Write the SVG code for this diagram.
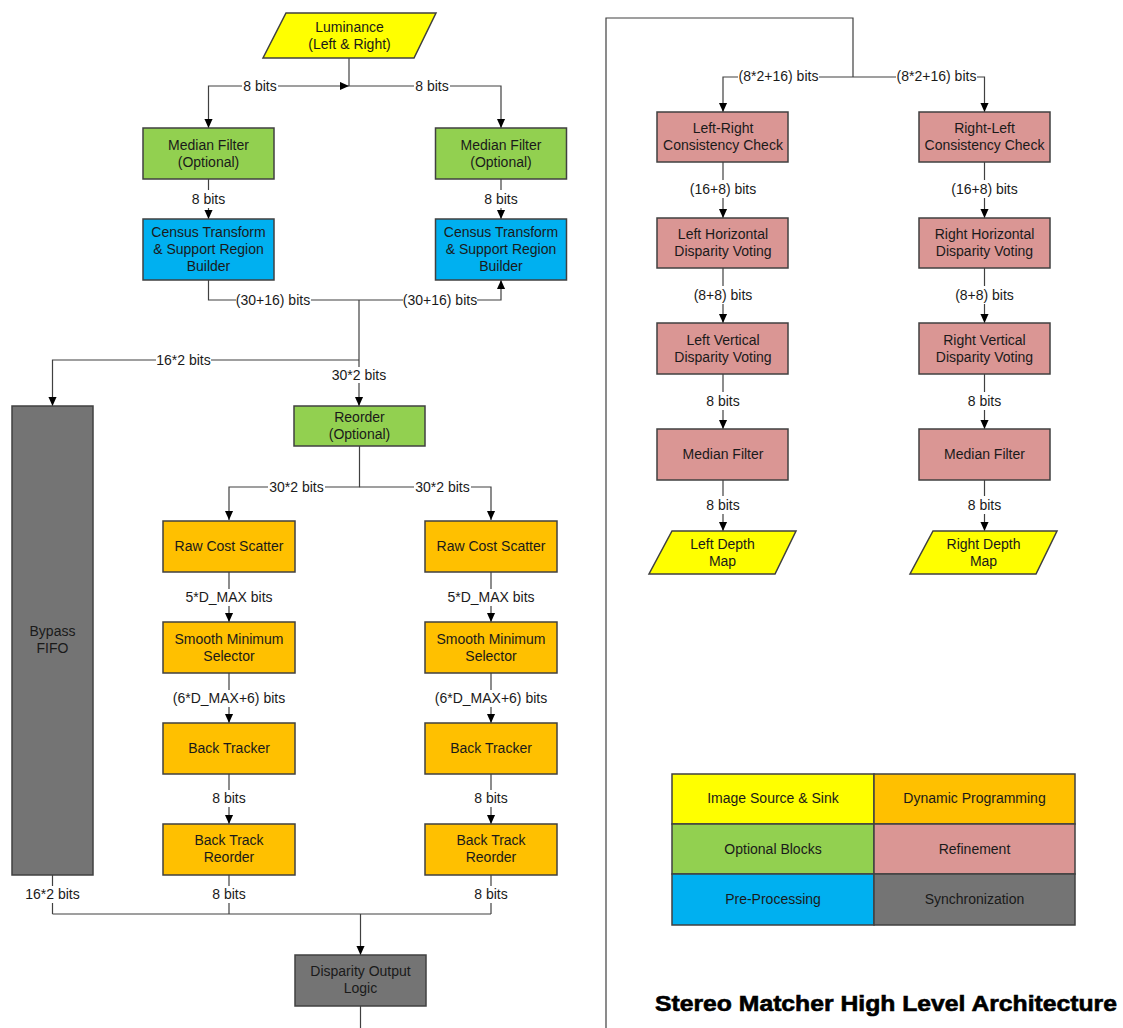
<svg xmlns="http://www.w3.org/2000/svg" width="1123" height="1028" viewBox="0 0 1123 1028">
<style>
text{font-family:"Liberation Sans",Arial,sans-serif;font-size:14px;fill:#1a1a1a;text-anchor:middle}
.box{stroke:#404040;stroke-width:1.5}
.y{fill:#FFFF00}.g{fill:#92D050}.b{fill:#00B0F0}.o{fill:#FFC000}.p{fill:#DA9694}.k{fill:#747474}
#connectors path{fill:none;stroke:#404040;stroke-width:1.2}
.title{font-size:22px;font-weight:bold;fill:#000;stroke:#000;stroke-width:0.6;text-anchor:start}
</style>
<defs>
<marker id="ah" viewBox="0 0 10 10" refX="10" refY="5" markerWidth="9" markerHeight="9" markerUnits="userSpaceOnUse" orient="auto">
<path d="M0,0.5 L10,5 L0,9.5 z" fill="#000"/>
</marker>
</defs>
<rect width="1123" height="1028" fill="#fff"/>

<g id="connectors">
<path d="M349,58 V86"/>
<path d="M242,86 H208.5 V128" marker-end="url(#ah)"/>
<path d="M278,86 H349" marker-end="url(#ah)"/>
<path d="M349,86 H414"/>
<path d="M450,86 H501 V128" marker-end="url(#ah)"/>
<path d="M208.5,179 V190"/><path d="M208.5,208 V219" marker-end="url(#ah)"/>
<path d="M501,179 V190"/><path d="M501,208 V219" marker-end="url(#ah)"/>
<path d="M208.5,280 V300 H236"/><path d="M311,300 H403"/><path d="M477,300 H501 V280" marker-end="url(#ah)"/>
<path d="M359,300 V367"/><path d="M359,383 V406" marker-end="url(#ah)"/>
<path d="M359,360 H211"/><path d="M156,360 H52.5 V406" marker-end="url(#ah)"/>
<path d="M359.5,446 V487 H325"/><path d="M268,487 H229 V520" marker-end="url(#ah)"/>
<path d="M359.5,487 H414"/><path d="M471,487 H491 V520" marker-end="url(#ah)"/>
<path d="M229,572 V589"/><path d="M229,606 V622" marker-end="url(#ah)"/>
<path d="M491,572 V589"/><path d="M491,606 V622" marker-end="url(#ah)"/>
<path d="M229,673 V690"/><path d="M229,707 V723" marker-end="url(#ah)"/>
<path d="M491,673 V690"/><path d="M491,707 V723" marker-end="url(#ah)"/>
<path d="M229,774 V790"/><path d="M229,807 V824" marker-end="url(#ah)"/>
<path d="M491,774 V790"/><path d="M491,807 V824" marker-end="url(#ah)"/>
<path d="M229,875 V886"/><path d="M229,903 V914"/>
<path d="M491,875 V886"/><path d="M491,903 V914"/>
<path d="M52.5,875 V886"/><path d="M52.5,903 V914"/>
<path d="M52.5,914 H491"/>
<path d="M360.5,914 V955" marker-end="url(#ah)"/>
<path d="M360.5,1006 V1028"/>
<path d="M606,1028 V18 H853 V77"/>
<path d="M853,77 H819"/><path d="M738,77 H723 V112" marker-end="url(#ah)"/>
<path d="M853,77 H896"/><path d="M977,77 H984.5 V112" marker-end="url(#ah)"/>
<path d="M723,162 V180"/><path d="M723,198 V218" marker-end="url(#ah)"/>
<path d="M984.5,162 V180"/><path d="M984.5,198 V218" marker-end="url(#ah)"/>
<path d="M723,268 V286"/><path d="M723,304 V323" marker-end="url(#ah)"/>
<path d="M984.5,268 V286"/><path d="M984.5,304 V323" marker-end="url(#ah)"/>
<path d="M723,374 V392"/><path d="M723,410 V429" marker-end="url(#ah)"/>
<path d="M984.5,374 V392"/><path d="M984.5,410 V429" marker-end="url(#ah)"/>
<path d="M723,480 V496"/><path d="M723,514 V531" marker-end="url(#ah)"/>
<path d="M984.5,480 V496"/><path d="M984.5,514 V531" marker-end="url(#ah)"/>
</g>

<g id="labels">
<text x="260" y="91">8 bits</text>
<text x="432" y="91">8 bits</text>
<text x="208.5" y="204">8 bits</text>
<text x="501" y="204">8 bits</text>
<text x="273" y="305">(30+16) bits</text>
<text x="440" y="305">(30+16) bits</text>
<text x="183.5" y="365">16*2 bits</text>
<text x="359" y="380">30*2 bits</text>
<text x="296.5" y="492">30*2 bits</text>
<text x="442.5" y="492">30*2 bits</text>
<text x="229" y="602">5*D_MAX bits</text>
<text x="491" y="602">5*D_MAX bits</text>
<text x="229" y="703">(6*D_MAX+6) bits</text>
<text x="491" y="703">(6*D_MAX+6) bits</text>
<text x="229" y="803">8 bits</text>
<text x="491" y="803">8 bits</text>
<text x="229" y="899">8 bits</text>
<text x="491" y="899">8 bits</text>
<text x="52.5" y="899">16*2 bits</text>
<text x="778.5" y="81">(8*2+16) bits</text>
<text x="936.5" y="81">(8*2+16) bits</text>
<text x="723" y="194">(16+8) bits</text>
<text x="984.5" y="194">(16+8) bits</text>
<text x="723" y="300">(8+8) bits</text>
<text x="984.5" y="300">(8+8) bits</text>
<text x="723" y="406">8 bits</text>
<text x="984.5" y="406">8 bits</text>
<text x="723" y="510">8 bits</text>
<text x="984.5" y="510">8 bits</text>
</g>

<g id="luminance"><polygon class="box y" points="286,13 436,13 414,58 263,58"/><text x="349.5" y="32">Luminance</text><text x="349.5" y="49">(Left &amp; Right)</text></g>
<g id="median-left"><rect class="box g" x="143" y="128" width="131" height="51"/><text x="208.5" y="150">Median Filter</text><text x="208.5" y="167">(Optional)</text></g>
<g id="median-right"><rect class="box g" x="435.5" y="128" width="131" height="51"/><text x="501" y="150">Median Filter</text><text x="501" y="167">(Optional)</text></g>
<g id="census-left"><rect class="box b" x="143" y="219" width="131" height="61"/><text x="208.5" y="237">Census Transform</text><text x="208.5" y="254">&amp; Support Region</text><text x="208.5" y="271">Builder</text></g>
<g id="census-right"><rect class="box b" x="435.5" y="219" width="131" height="61"/><text x="501" y="237">Census Transform</text><text x="501" y="254">&amp; Support Region</text><text x="501" y="271">Builder</text></g>
<g id="reorder"><rect class="box g" x="294" y="406" width="131" height="40"/><text x="359.5" y="422">Reorder</text><text x="359.5" y="439">(Optional)</text></g>
<g id="bypass-fifo"><rect class="box k" x="12" y="406" width="81" height="469"/><text x="52.5" y="636">Bypass</text><text x="52.5" y="653">FIFO</text></g>
<g id="raw-left"><rect class="box o" x="163" y="521" width="132" height="51"/><text x="229" y="551">Raw Cost Scatter</text></g>
<g id="raw-right"><rect class="box o" x="425" y="521" width="132" height="51"/><text x="491" y="551">Raw Cost Scatter</text></g>
<g id="smooth-left"><rect class="box o" x="163" y="622" width="132" height="51"/><text x="229" y="644">Smooth Minimum</text><text x="229" y="661">Selector</text></g>
<g id="smooth-right"><rect class="box o" x="425" y="622" width="132" height="51"/><text x="491" y="644">Smooth Minimum</text><text x="491" y="661">Selector</text></g>
<g id="bt-left"><rect class="box o" x="163" y="723" width="132" height="51"/><text x="229" y="753">Back Tracker</text></g>
<g id="bt-right"><rect class="box o" x="425" y="723" width="132" height="51"/><text x="491" y="753">Back Tracker</text></g>
<g id="btr-left"><rect class="box o" x="163" y="824" width="132" height="51"/><text x="229" y="845">Back Track</text><text x="229" y="862">Reorder</text></g>
<g id="btr-right"><rect class="box o" x="425" y="824" width="132" height="51"/><text x="491" y="845">Back Track</text><text x="491" y="862">Reorder</text></g>
<g id="disparity-output"><rect class="box k" x="295" y="955" width="131" height="51"/><text x="360.5" y="976">Disparity Output</text><text x="360.5" y="993">Logic</text></g>

<g id="lrcc"><rect class="box p" x="657" y="112" width="131" height="50"/><text x="723" y="133">Left-Right</text><text x="723" y="150">Consistency Check</text></g>
<g id="rlcc"><rect class="box p" x="919" y="112" width="131" height="50"/><text x="984.5" y="133">Right-Left</text><text x="984.5" y="150">Consistency Check</text></g>
<g id="lhdv"><rect class="box p" x="657" y="218" width="131" height="50"/><text x="723" y="239">Left Horizontal</text><text x="723" y="256">Disparity Voting</text></g>
<g id="rhdv"><rect class="box p" x="919" y="218" width="131" height="50"/><text x="984.5" y="239">Right Horizontal</text><text x="984.5" y="256">Disparity Voting</text></g>
<g id="lvdv"><rect class="box p" x="657" y="323" width="131" height="51"/><text x="723" y="345">Left Vertical</text><text x="723" y="362">Disparity Voting</text></g>
<g id="rvdv"><rect class="box p" x="919" y="323" width="131" height="51"/><text x="984.5" y="345">Right Vertical</text><text x="984.5" y="362">Disparity Voting</text></g>
<g id="lmf"><rect class="box p" x="657" y="429" width="131" height="51"/><text x="723" y="459">Median Filter</text></g>
<g id="rmf"><rect class="box p" x="919" y="429" width="131" height="51"/><text x="984.5" y="459">Median Filter</text></g>
<g id="left-depth"><polygon class="box y" points="672,531 796,531 775,574 649,574"/><text x="722.5" y="549">Left Depth</text><text x="722.5" y="566">Map</text></g>
<g id="right-depth"><polygon class="box y" points="933,531 1057,531 1036,574 910,574"/><text x="983.5" y="549">Right Depth</text><text x="983.5" y="566">Map</text></g>

<g id="legend">
<rect class="box y" x="672" y="774" width="202" height="50"/><text x="773" y="803">Image Source &amp; Sink</text>
<rect class="box o" x="874" y="774" width="201" height="50"/><text x="974.5" y="803">Dynamic Programming</text>
<rect class="box g" x="672" y="824" width="202" height="50"/><text x="773" y="854">Optional Blocks</text>
<rect class="box p" x="874" y="824" width="201" height="50"/><text x="974.5" y="854">Refinement</text>
<rect class="box b" x="672" y="874" width="202" height="51"/><text x="773" y="904">Pre-Processing</text>
<rect class="box k" x="874" y="874" width="201" height="51"/><text x="974.5" y="904">Synchronization</text>
</g>
<text class="title" x="655" y="1011" textLength="462" lengthAdjust="spacingAndGlyphs">Stereo Matcher High Level Architecture</text>
</svg>
